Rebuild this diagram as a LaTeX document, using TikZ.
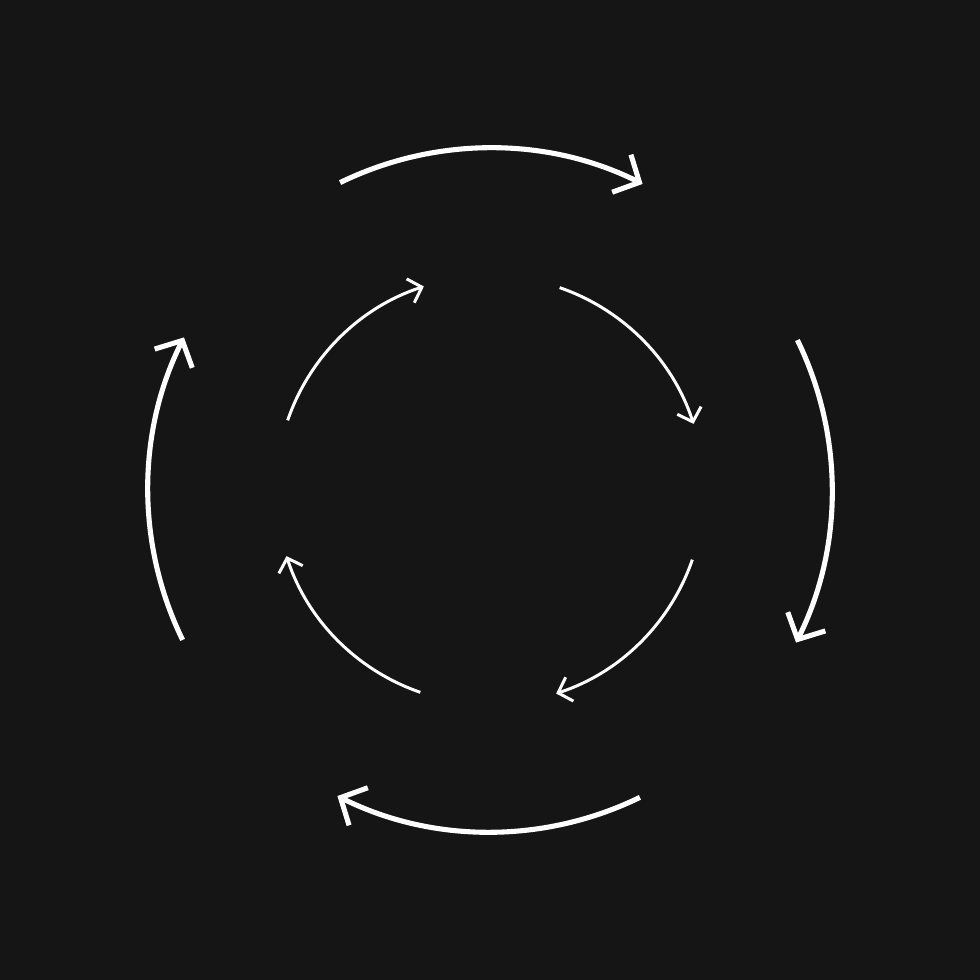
\documentclass[tikz,border=0pt]{standalone}
\usetikzlibrary{arrows.meta}
\definecolor{bgdark}{HTML}{151515}
\begin{document}
\begin{tikzpicture}[
	outerarc/.style={white, line width=1.45pt, -{Straight Barb[length=2mm, width=4.2mm, line width=1.45pt]}},
	innerarc/.style={white, line width=0.85pt, -{Straight Barb[length=1.2mm, width=2.5mm, line width=0.85pt]}}]
		\fill[bgdark] (-4.9,-4.9) rectangle (4.9,4.9);
		\useasboundingbox (-4.9,-4.9) rectangle (4.9,4.9);
		\coordinate (c) at (0,0);
		
		\draw[outerarc] (c) ++(116:3.42) arc[start angle=116, end angle=63.5, radius=3.42];
		\draw[outerarc] (c) ++(26:3.42) arc[start angle=26, end angle=-26.5, radius=3.42];
		\draw[outerarc] (c) ++(-64:3.42) arc[start angle=-64, end angle=-116.5, radius=3.42];
		\draw[outerarc] (c) ++(206:3.42) arc[start angle=206, end angle=153.5, radius=3.42];
		
		\draw[innerarc] (c) ++(161:2.14) arc[start angle=161, end angle=108, radius=2.14];
		\draw[innerarc] (c) ++(71:2.14) arc[start angle=71, end angle=18, radius=2.14];
		\draw[innerarc] (c) ++(-19:2.14) arc[start angle=-19, end angle=-72, radius=2.14];
		\draw[innerarc] (c) ++(-109:2.14) arc[start angle=-109, end angle=-162, radius=2.14];
	\end{tikzpicture}
\end{document}
